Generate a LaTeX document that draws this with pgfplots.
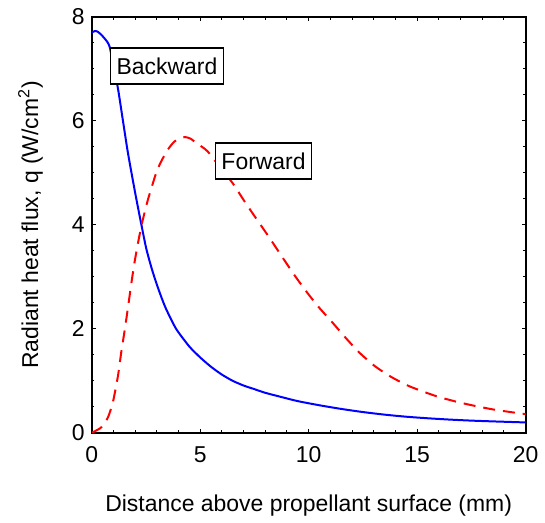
\documentclass[border=0pt]{standalone}
\usepackage{fontspec}
\setmainfont{Liberation Sans}
\usepackage{pgfplots}
\pgfplotsset{compat=1.18}
\begin{document}
\begin{tikzpicture}
\begin{axis}[
  at={(0,0)}, anchor=south west,
  scale only axis, width=217.5pt, height=208.5pt,
  xmin=0, xmax=20, ymin=0, ymax=8,
  xtick={0,5,10,15,20}, ytick={0,2,4,6,8},
  minor x tick num=4, minor y tick num=3,
  tick align=inside,
  major tick length=2pt, minor tick length=1.3pt,
  every tick/.style={black, line width=0.5pt},
  axis line style={line width=1pt},
  /pgf/number format/assume math mode=true,
  tick label style={font=\fontsize{11.5}{13.8}\selectfont},
  xticklabel style={yshift=-3.4pt},
  label style={font=\fontsize{11.5}{13.8}\selectfont},
  xlabel={Distance above propellant surface (mm)},
  ylabel={Radiant heat flux, q (W/cm\textsuperscript{2})},
  xlabel style={at={(axis description cs:0.5,-0.175)}, anchor=center},
  ylabel style={at={(axis description cs:-0.141,0.5)}, anchor=center},
]
\addplot[blue, line width=1pt, smooth, tension=0.4] coordinates {
(0,7.70) (0.15,7.73) (0.3,7.71) (0.5,7.63) (0.7,7.53) (0.83,7.42)
(1.0,7.05) (1.21,6.62) (1.45,5.97) (1.67,5.38) (2.0,4.62) (2.28,4.02)
(2.51,3.55) (2.75,3.18) (2.97,2.89) (3.2,2.62) (3.43,2.38) (3.89,2.00)
(4.5,1.66) (5.0,1.45) (5.5,1.27) (6.0,1.12) (6.5,1.00) (7.0,0.91)
(7.5,0.84) (8.0,0.77) (8.64,0.70) (9.5,0.61) (10.5,0.53) (11.5,0.46)
(12.5,0.40) (13.5,0.35) (14.5,0.31) (15.5,0.28) (16.5,0.255) (17.5,0.235)
(18.5,0.22) (20,0.20)
};
\addplot[red, line width=1pt, dash pattern=on 6pt off 4pt, smooth, tension=0.4] coordinates {
(0,0) (0.14,0.03) (0.45,0.11) (0.75,0.30) (0.98,0.60) (1.21,1.10)
(1.36,1.55) (1.52,1.98) (1.67,2.41) (1.82,2.86) (1.98,3.30) (2.2,3.80)
(2.36,4.11) (2.6,4.50) (2.97,5.00) (3.2,5.22) (3.51,5.45) (3.8,5.60)
(4.05,5.66) (4.3,5.69) (4.55,5.66) (4.81,5.58) (5.12,5.49) (5.35,5.41)
(5.9,5.12) (6.5,4.80) (7.0,4.48) (7.42,4.22) (8.18,3.76) (8.80,3.37)
(9.4,3.00) (10.0,2.66) (10.5,2.40) (11.1,2.12) (11.7,1.83) (12.32,1.55)
(13.0,1.30) (13.55,1.14) (14.0,1.03) (14.62,0.90) (15.3,0.79) (16.0,0.69)
(16.8,0.60) (17.53,0.53) (18.5,0.45) (19.3,0.40) (20,0.36)
};
\node[draw=black, fill=white, line width=0.75pt, inner xsep=3pt, inner ysep=0pt,
  minimum height=18pt, font=\fontsize{11.5}{13.8}\selectfont] at (axis cs:3.47,7.06) {Backward};
\node[draw=black, fill=white, line width=0.75pt, inner xsep=3pt, inner ysep=0pt,
  minimum height=18pt, font=\fontsize{11.5}{13.8}\selectfont] at (axis cs:7.92,5.23) {Forward};
\end{axis}
\path[use as bounding box] (-46pt,-42.5pt) rectangle (226.5pt,217pt);
\end{tikzpicture}
\end{document}
